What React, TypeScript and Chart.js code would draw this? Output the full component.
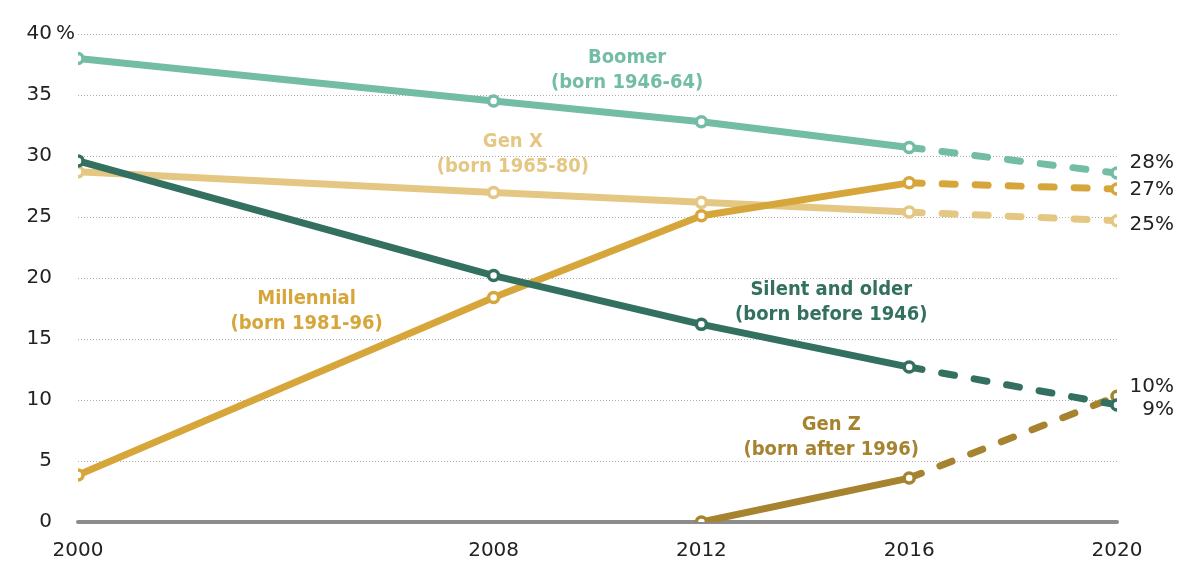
import React, { useEffect, useRef } from 'react';
import { Chart, registerables } from 'chart.js';

Chart.register(...registerables);

// ---- data ----
const years = [2000, 2008, 2012, 2016, 2020];
const boomer = [38.0, 34.5, 32.8, 30.7, 28.6];
const genX = [28.7, 27.0, 26.2, 25.4, 24.7];
const millennial = [3.85, 18.4, 25.1, 27.8, 27.3];
const silent = [29.6, 20.2, 16.2, 12.7, 9.6];
const genZ: (number | null)[] = [null, null, 0, 3.6, 10.3];
const yTickValues = [0, 5, 10, 15, 20, 25, 30, 35, 40];
const xTickValues = [2000, 2008, 2012, 2016, 2020];

const seriesNames = ['Silent', 'Millennial', 'Gen Z', 'Boomer', 'Gen X'];
const seriesLabels = [
  ['Silent and older', '(born before 1946)'],
  ['Millennial', '(born 1981-96)'],
  ['Gen Z', '(born after 1996)'],
  ['Boomer', '(born 1946-64)'],
  ['Gen X', '(born 1965-80)'],
];
// label anchor in data units (year, percent) for first line
const labelAnchorX = [2014.5, 2004.4, 2014.5, 2010.57, 2008.37];
const labelAnchorY = [19.0, 18.3, 7.95, 38.03, 31.15];
const endLabelText = ['9%', '27%', '10%', '28%', '25%'];
const endLabelDy = [5, 1, -10, -10, 4];

const colors = ['#33705F', '#D6A63A', '#A5832F', '#73BCA6', '#E5C784'];

const allSeries = [silent, millennial, genZ, boomer, genX];

const TICK_FONT = '20px "DejaVu Sans", "Liberation Sans", sans-serif';
const LABEL_FONT = 'bold 20px "DejaVu Sans Condensed", "Liberation Sans", sans-serif';

const CHART_TOP = 34;

const overlayPlugin = {
  id: 'overlay',
  beforeDatasetsDraw(chart: any) {
    const { ctx, chartArea, scales } = chart;
    const y0 = scales.y.getPixelForValue(0);
    ctx.save();
    ctx.strokeStyle = '#8c8c8c';
    ctx.lineWidth = 4;
    ctx.lineCap = 'round';
    ctx.beginPath();
    ctx.moveTo(chartArea.left, y0);
    ctx.lineTo(chartArea.right, y0);
    ctx.stroke();
    ctx.restore();
  },
  afterDraw(chart: any) {
    const { ctx, chartArea, scales } = chart;
    const xs = scales.x;
    const ys = scales.y;
    ctx.save();
    // percent sign next to top tick
    ctx.font = TICK_FONT;
    ctx.fillStyle = '#222';
    ctx.textAlign = 'left';
    ctx.textBaseline = 'middle';
    ctx.fillText('%', chartArea.left - 22, ys.getPixelForValue(40));

    // series labels
    ctx.font = LABEL_FONT;
    ctx.textAlign = 'center';
    ctx.textBaseline = 'middle';
    seriesLabels.forEach((lines, i) => {
      const px = xs.getPixelForValue(labelAnchorX[i]);
      const py = ys.getPixelForValue(labelAnchorY[i]);
      ctx.fillStyle = colors[i];
      lines.forEach((t, j) => ctx.fillText(t, px, py + j * 25));
    });

    // end labels
    ctx.font = TICK_FONT;
    ctx.fillStyle = '#222';
    ctx.textAlign = 'right';
    allSeries.forEach((s, i) => {
      const v = s[s.length - 1] as number;
      const px = xs.getPixelForValue(2020) + 57;
      const py = ys.getPixelForValue(v) + endLabelDy[i];
      ctx.fillText(endLabelText[i], px, py);
    });
    ctx.restore();
  },
};

export default function App() {
  const ref = useRef<HTMLCanvasElement>(null);

  useEffect(() => {
    if (!ref.current) return;
    const datasets = allSeries.map((s, i) => ({
      label: seriesNames[i],
      data: years
        .map((x, k) => ({ x, y: s[k] }))
        .filter((p) => p.y !== null),
      borderColor: colors[i],
      backgroundColor: '#ffffff',
      pointBackgroundColor: '#ffffff',
      pointBorderColor: colors[i],
      pointRadius: 5,
      pointBorderWidth: 3.5,
      borderWidth: 7,
      borderCapStyle: 'round' as const,
      borderJoinStyle: 'round' as const,
      order: i,
      segment: {
        borderDash: (c: any) => (c.p0.parsed.x >= 2016 ? [13, 20] : undefined),
      },
    }));

    const chart = new Chart(ref.current, {
      type: 'line',
      data: { datasets },
      plugins: [overlayPlugin],
      options: {
        animation: false,
        responsive: true,
        maintainAspectRatio: false,
        layout: { padding: { top: CHART_TOP, right: 83, bottom: 0, left: 0 } },
        plugins: { legend: { display: false }, tooltip: { enabled: false } },
        scales: {
          x: {
            type: 'linear',
            min: 2000,
            max: 2020,
            afterBuildTicks: (axis: any) => {
              axis.ticks = xTickValues.map((v) => ({ value: v }));
            },
            afterFit: (axis: any) => {
              axis.height = 66;
            },
            grid: { display: false, drawTicks: false },
            border: { display: false },
            ticks: {
              font: { family: '"DejaVu Sans", "Liberation Sans", sans-serif', size: 20 },
              color: '#222',
              padding: 17,
              maxRotation: 0,
              autoSkip: false,
              callback: (v: any) => String(v),
            },
          },
          y: {
            type: 'linear',
            min: 0,
            max: 40,
            afterBuildTicks: (axis: any) => {
              axis.ticks = yTickValues.map((v) => ({ value: v }));
            },
            afterFit: (axis: any) => {
              axis.width = 78;
              axis.paddingTop = 0;
            },
            grid: {
              drawTicks: false,
              color: (c: any) => (c.tick && c.tick.value === 0 ? 'rgba(0,0,0,0)' : '#b0b0b0'),
              lineWidth: 1,
            },
            border: { display: false, dash: [1, 2] },
            ticks: {
              font: { family: '"DejaVu Sans", "Liberation Sans", sans-serif', size: 20 },
              color: '#222',
              padding: 26,
              callback: (v: any) => String(v),
            },
          },
        },
      },
    });
    // debug: ensure exact chart top by adjusting padding if needed
    const diff = chart.chartArea.top - CHART_TOP;
    if (Math.abs(diff) > 0.5) {
      (chart.options.layout as any).padding = { top: CHART_TOP - diff, right: 83, bottom: 0, left: 0 };
      chart.update();
    }
    return () => chart.destroy();
  }, []);

  return (
    <div style={{ position: 'fixed', left: 0, top: 0, width: 1200, height: 588, background: '#fff' }}>
      <canvas ref={ref} />
    </div>
  );
}
